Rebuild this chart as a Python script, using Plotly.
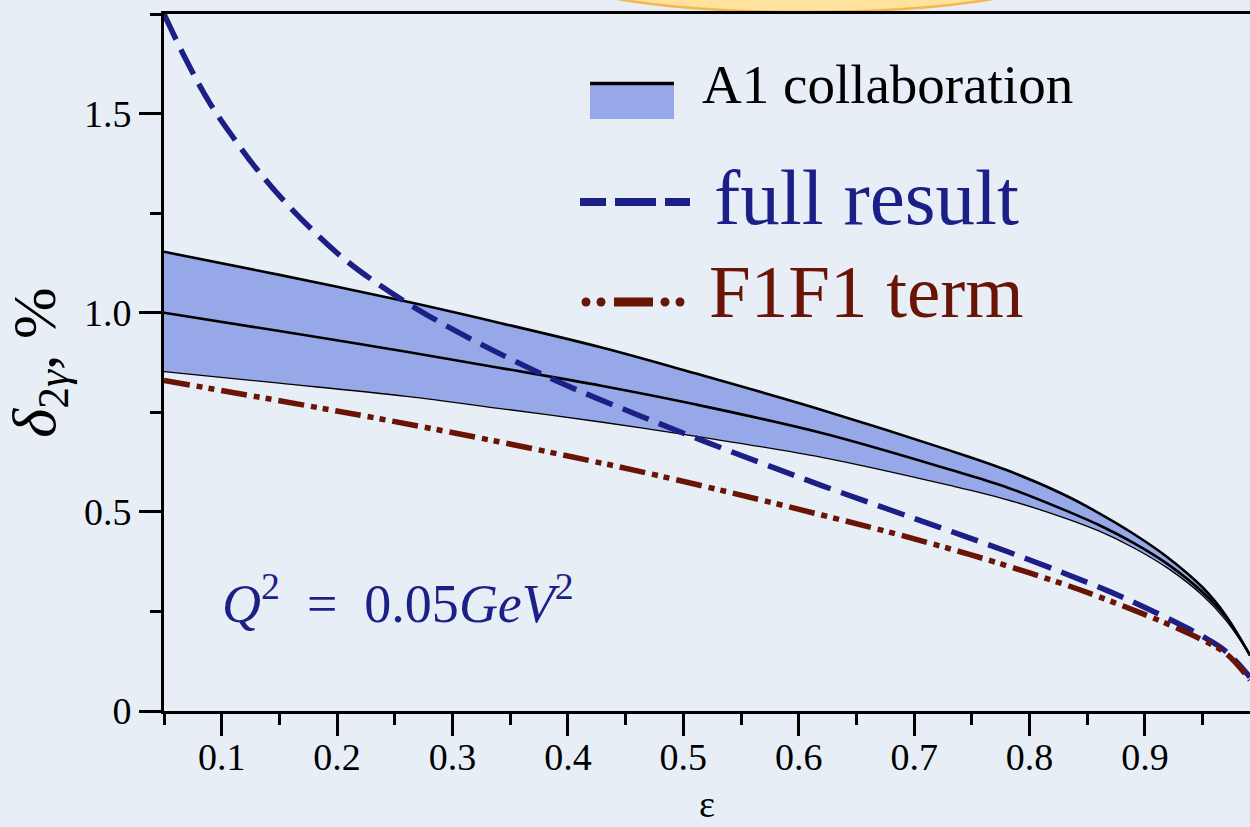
import plotly.graph_objects as go

# ---------------- data ----------------
eps_full = [0.05, 0.07, 0.09, 0.11, 0.13, 0.16, 0.20, 0.23, 0.27, 0.31, 0.35, 0.40,
            0.46, 0.52, 0.58, 0.62, 0.68, 0.73, 0.78, 0.83, 0.87, 0.90, 0.93, 0.95,
            0.97, 0.991]
full_result = [1.75, 1.63, 1.525, 1.44, 1.362, 1.262, 1.15, 1.083, 1.008, 0.943, 0.884,
               0.816, 0.744, 0.675, 0.609, 0.566, 0.504, 0.453, 0.401, 0.346, 0.299,
               0.26, 0.218, 0.187, 0.15, 0.085]

eps_band = [0.05, 0.15, 0.26, 0.34, 0.43, 0.51, 0.62, 0.73, 0.78, 0.83, 0.86, 0.89,
            0.92, 0.95, 0.97, 0.991]
a1_upper = [1.153, 1.095, 1.028, 0.975, 0.912, 0.848, 0.756, 0.655, 0.605, 0.543,
            0.497, 0.445, 0.385, 0.31, 0.24, 0.14]
a1_central = [1.0, 0.954, 0.902, 0.862, 0.816, 0.77, 0.698, 0.607, 0.562, 0.505,
              0.467, 0.422, 0.368, 0.298, 0.236, 0.14]
a1_lower = [0.852, 0.823, 0.79, 0.76, 0.725, 0.69, 0.637, 0.567, 0.531, 0.485, 0.452,
            0.41, 0.358, 0.29, 0.228, 0.14]

eps_f1 = [0.05, 0.15, 0.24, 0.34, 0.42, 0.46, 0.54, 0.62, 0.68, 0.73, 0.77, 0.83,
          0.86, 0.90, 0.92, 0.95, 0.97, 0.991]
f1f1_term = [0.83, 0.779, 0.732, 0.676, 0.628, 0.603, 0.549, 0.492, 0.448, 0.408, 0.374,
             0.318, 0.287, 0.242, 0.218, 0.178, 0.145, 0.078]

x_tick_labels = ["0.1", "0.2", "0.3", "0.4", "0.5", "0.6", "0.7", "0.8", "0.9"]
y_tick_vals = [0, 0.5, 1.0, 1.5]
y_tick_labels = ["0", "0.5", "1.0", "1.5"]

# ---------------- style ----------------
W, H = 1250, 827
L, R, T, B = 164, 0, 14, 116
BG = "#e7eef5"
BAND = "#97a8e8"
NAVY = "#1b1f86"
DARKRED = "#6a1406"
FONT = "Liberation Serif"


def px(xp):
    return (xp - L) / (W - L - R)


def py(yp):
    return (H - B - yp) / (H - T - B)


fig = go.Figure()

# band
fig.add_trace(go.Scatter(x=eps_band, y=a1_lower, mode="lines",
                         line=dict(color="black", width=1.3, shape="spline"),
                         showlegend=False, hoverinfo="skip"))
fig.add_trace(go.Scatter(x=eps_band, y=a1_upper, mode="lines", fill="tonexty",
                         fillcolor=BAND,
                         line=dict(color="black", width=2.6, shape="spline"),
                         showlegend=False, hoverinfo="skip"))
fig.add_trace(go.Scatter(x=eps_band, y=a1_central, mode="lines",
                         line=dict(color="black", width=2.6, shape="spline"),
                         showlegend=False, name="A1 collaboration"))
# full result
fig.add_trace(go.Scatter(x=eps_full, y=full_result, mode="lines",
                         line=dict(color=NAVY, width=5.5, dash="28px,11px", shape="spline"),
                         showlegend=False, name="full result"))
# F1F1 term
fig.add_trace(go.Scatter(x=eps_f1, y=f1f1_term, mode="lines",
                         line=dict(color=DARKRED, width=5.5,
                                   dash="26px,7px,6px,6px,6px,7px", shape="spline"),
                         showlegend=False, name="F1F1 term"))

shapes = []
# glow at top
shapes.append(dict(type="circle", xref="paper", yref="paper",
                   x0=px(548), x1=px(1062), y0=py(12), y1=py(-70),
                   fillcolor="#ffe39c", line=dict(color="#f6b650", width=2.5),
                   layer="below"))
# legend: A1 collaboration
shapes.append(dict(type="rect", xref="paper", yref="paper",
                   x0=px(590), x1=px(674), y0=py(119), y1=py(85),
                   fillcolor=BAND, line=dict(width=0)))
shapes.append(dict(type="line", xref="paper", yref="paper",
                   x0=px(590), x1=px(674), y0=py(83.5), y1=py(83.5),
                   line=dict(color="black", width=3.5)))
# legend: full result (three dashes)
for a, b in [(580, 606), (615, 656), (665, 690)]:
    shapes.append(dict(type="line", xref="paper", yref="paper",
                       x0=px(a), x1=px(b), y0=py(202), y1=py(202),
                       line=dict(color=NAVY, width=8)))
# legend: F1F1 term (dot dot dash dot dot)
for cx in [586, 601, 665, 680]:
    shapes.append(dict(type="circle", xref="paper", yref="paper",
                       x0=px(cx - 4.5), x1=px(cx + 4.5), y0=py(302 + 4.5), y1=py(302 - 4.5),
                       fillcolor=DARKRED, line=dict(width=0)))
shapes.append(dict(type="line", xref="paper", yref="paper",
                   x0=px(614), x1=px(653), y0=py(302), y1=py(302),
                   line=dict(color=DARKRED, width=9)))

annotations = [
    dict(text="A1 collaboration", xref="paper", yref="paper", x=px(700), y=py(85),
         xanchor="left", yanchor="middle", showarrow=False,
         font=dict(family=FONT, size=55, color="black")),
    dict(text="full result", xref="paper", yref="paper", x=px(712), y=py(197),
         xanchor="left", yanchor="middle", showarrow=False,
         font=dict(family=FONT, size=79, color=NAVY)),
    dict(text="F1F1 term", xref="paper", yref="paper", x=px(707), y=py(292),
         xanchor="left", yanchor="middle", showarrow=False,
         font=dict(family=FONT, size=75, color=DARKRED)),
    dict(text="<i>Q</i><sup>2</sup>\u2002=\u20020.05<i>GeV</i><sup>2</sup>", xref="paper",
         yref="paper", x=px(220), y=py(599), xanchor="left", yanchor="middle",
         showarrow=False, font=dict(family=FONT, size=54, color=NAVY)),
]

fig.update_layout(
    width=W, height=H,
    margin=dict(l=L, r=R, t=T, b=B, pad=0),
    paper_bgcolor=BG, plot_bgcolor=BG,
    font=dict(family=FONT, color="black"),
    shapes=shapes, annotations=annotations,
    showlegend=False,
)

fig.update_xaxes(
    range=[0.05, 0.991], showgrid=False, zeroline=False,
    showline=True, linecolor="black", linewidth=3, mirror=True,
    tickmode="array", tickvals=[0.1 * (i + 1) for i in range(len(x_tick_labels))],
    ticktext=x_tick_labels,
    ticks="outside", ticklen=22, tickwidth=3, tickcolor="black",
    ticklabelstandoff=-12,
    tickfont=dict(family=FONT, size=38, color="black"),
    minor=dict(tickmode="array", tickvals=[0.05 + 0.1 * i for i in range(10)],
               ticks="outside", ticklen=11, tickwidth=3, tickcolor="black",
               showgrid=False),
    title=dict(text="ε", font=dict(family=FONT, size=38, color="black"), standoff=14),
)
fig.update_yaxes(
    range=[0, 1.75], showgrid=False, zeroline=False,
    showline=True, linecolor="black", linewidth=3,
    tickmode="array", tickvals=y_tick_vals, ticktext=y_tick_labels,
    ticks="outside", ticklen=22, tickwidth=3, tickcolor="black",
    tickfont=dict(family=FONT, size=38, color="black"),
    minor=dict(tickmode="array", tickvals=[0.25, 0.75, 1.25, 1.75],
               ticks="outside", ticklen=11, tickwidth=3, tickcolor="black",
               showgrid=False),
    title=dict(text="<i>δ</i><sub>2<i>γ</i></sub>, %",
               font=dict(family=FONT, size=62, color="black"), standoff=10),
)

fig.write_html("out.html")
